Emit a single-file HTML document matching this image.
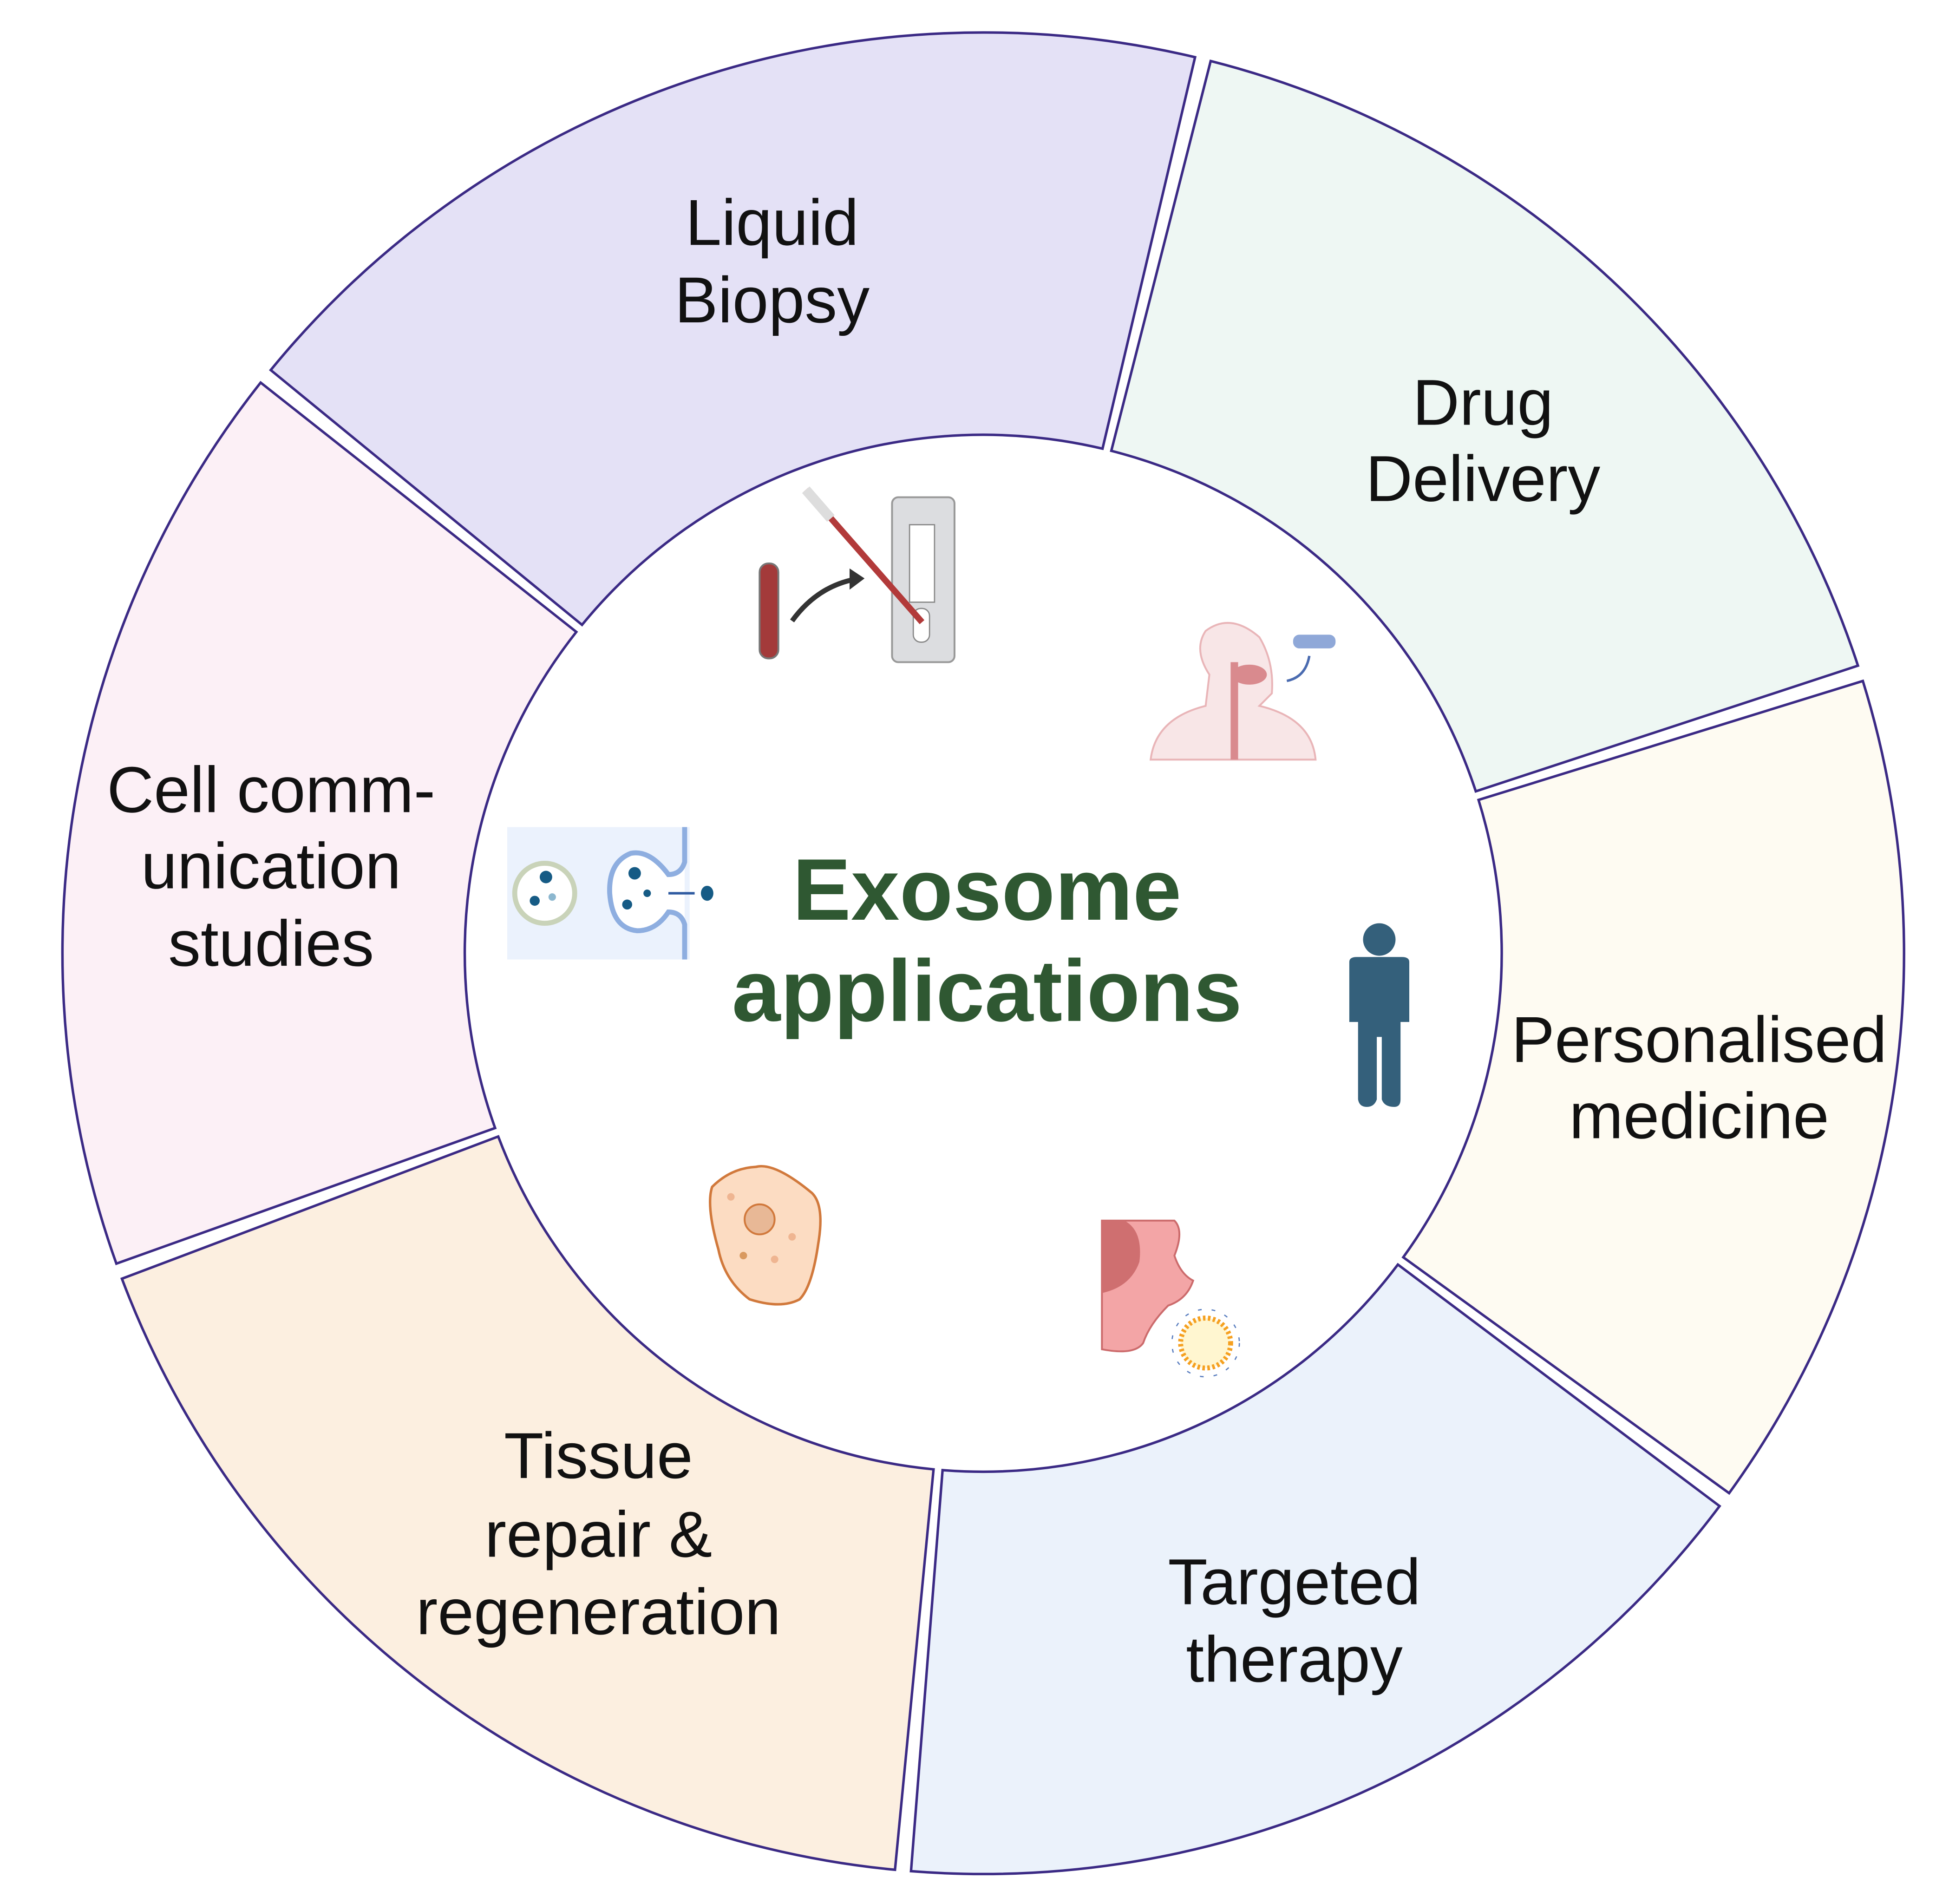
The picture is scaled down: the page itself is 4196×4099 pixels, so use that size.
<!DOCTYPE html>
<html><head><meta charset="utf-8"><style>
html,body{margin:0;padding:0;background:#fff;}
svg{display:block;}
text{font-family:"Liberation Sans",Arial,sans-serif;}
</style></head><body>
<svg id="s" width="4196" height="4099" viewBox="0 0 1560 1524" preserveAspectRatio="none" xmlns="http://www.w3.org/2000/svg">
<g id="segs"></g>
<g font-size="52" fill="#111" text-anchor="middle" dominant-baseline="central">
<text x="618" y="178">Liquid</text><text x="618" y="240">Biopsy</text>
<text x="1187" y="322">Drug</text><text x="1187" y="383">Delivery</text>
<text x="1360" y="832">Personalised</text><text x="1360" y="893">medicine</text>
<text x="1036" y="1266">Targeted</text><text x="1036" y="1328">therapy</text>
<text x="479" y="1165">Tissue</text><text x="479" y="1228">repair &amp;</text><text x="479" y="1290">regeneration</text>
<text x="217" y="632">Cell comm-</text><text x="217" y="693">unication</text><text x="217" y="755">studies</text>
</g>
<g font-size="70" font-weight="bold" fill="#2f5832" text-anchor="middle" dominant-baseline="central">
<text x="790" y="712">Exosome</text><text x="790" y="793">applications</text>
</g>
<!-- liquid biopsy icon -->
<rect x="608" y="451" width="15" height="76" rx="7" fill="#a33a3a" stroke="#777" stroke-width="1.5"/>
<path d="M634 497 Q655 468 688 463" fill="none" stroke="#333" stroke-width="4"/>
<path d="M680 455 L692 463 L680 472 Z" fill="#333"/>
<rect x="714" y="398" width="50" height="132" rx="5" fill="#dcdde0" stroke="#999" stroke-width="1.5"/>
<rect x="728" y="420" width="20" height="62" fill="#fff" stroke="#888"/>
<rect x="731" y="487" width="13" height="27" rx="6" fill="#fff" stroke="#888"/>
<line x1="645" y1="392" x2="738" y2="498" stroke="#b23a3a" stroke-width="5"/>
<line x1="645" y1="392" x2="665" y2="415" stroke="#ddd" stroke-width="8"/>
<!-- drug delivery icon -->
<path d="M921 608 Q925 575 965 565 L968 540 Q955 520 965 505 Q985 490 1008 510 Q1020 530 1018 555 L1008 565 Q1050 575 1053 608 Z" fill="#f8e6e7" stroke="#e9b5b8" stroke-width="1.5"/>
<rect x="985" y="530" width="6" height="78" fill="#d98a8e"/>
<ellipse cx="1000" cy="540" rx="14" ry="8" fill="#d98a8e"/>
<rect x="1035" y="508" width="34" height="11" rx="5" fill="#8fa8d8"/>
<path d="M1048 525 Q1045 542 1030 545" fill="none" stroke="#4a6bb0" stroke-width="2"/>
<!-- exosome panel -->
<rect x="406" y="662" width="146" height="106" fill="#ebf2fd"/>
<circle cx="436" cy="715" r="24" fill="#fff" stroke="#c9d3b9" stroke-width="4"/>
<circle cx="437" cy="702" r="5" fill="#165b85"/><circle cx="428" cy="721" r="4" fill="#165b85"/><circle cx="442" cy="718" r="3" fill="#8cb7cf"/>
<path d="M548 662 L548 690 Q545 700 535 700 Q520 680 505 683 Q487 690 488 715 Q490 743 510 745 Q525 745 535 730 Q545 730 548 740 L548 768" fill="#fff" stroke="#8eaee0" stroke-width="4"/>
<circle cx="508" cy="699" r="5" fill="#165b85"/><circle cx="502" cy="724" r="4" fill="#165b85"/><circle cx="518" cy="715" r="3" fill="#165b85"/>
<line x1="535" y1="715" x2="556" y2="715" stroke="#2e5aa0" stroke-width="2"/>
<ellipse cx="566" cy="715" rx="5" ry="6" fill="#165b85"/>
<!-- person -->
<circle cx="1104" cy="752" r="13" fill="#34607b"/>
<path d="M1080 770 Q1080 766 1086 766 L1122 766 Q1128 766 1128 770 L1128 818 L1121 818 L1121 880 Q1121 886 1116 886 Q1108 886 1106 880 L1106 830 L1102 830 L1102 880 Q1100 886 1094 886 Q1088 886 1087 880 L1087 818 L1080 818 Z" fill="#34607b"/>
<!-- cell -->
<path d="M605 934 Q620 930 650 955 Q660 965 655 995 Q650 1030 640 1040 Q625 1048 600 1040 Q580 1025 575 1000 Q565 965 570 950 Q585 935 605 934 Z" fill="#fcdcc2" stroke="#d1793c" stroke-width="2"/>
<circle cx="608" cy="976" r="12" fill="#e8b896" stroke="#d1793c" stroke-width="1.5"/>
<circle cx="585" cy="958" r="3" fill="#efb591"/><circle cx="620" cy="1008" r="3" fill="#efb591"/><circle cx="595" cy="1005" r="3" fill="#d9995f"/><circle cx="634" cy="990" r="3" fill="#efb591"/>
<!-- targeted therapy -->
<path d="M882 977 L940 977 Q948 985 940 1005 Q945 1020 955 1025 Q950 1040 935 1045 Q920 1060 915 1075 Q908 1085 882 1080 Z" fill="#f3a5a6" stroke="#cc6b6c" stroke-width="1.5"/>
<path d="M882 977 L900 977 Q915 985 912 1010 Q905 1030 882 1035 Z" fill="#cf6f70"/>
<circle cx="965" cy="1075" r="20" fill="#fff6d0" stroke="#f5a020" stroke-width="4" stroke-dasharray="2 2"/>
<circle cx="965" cy="1075" r="27" fill="none" stroke="#5b7fc0" stroke-width="1" stroke-dasharray="3 8"/>
<script>
(function(){
var cx=787,cy=763,R=737,r=415,ns="http://www.w3.org/2000/svg";
var segs=[[219.3,283.3,"#e4e1f6"],[284.3,341.8,"#eef7f3"],[342.8,395.9,"#fefbf2"],[396.9,454.5,"#ebf2fb"],[455.5,519.3,"#fcefe0"],[520.3,578.3,"#fcf0f6"]];
function p(a,rr){a=a*Math.PI/180;return (cx+rr*Math.cos(a)).toFixed(2)+" "+(cy+rr*Math.sin(a)).toFixed(2);}
var g=document.getElementById("segs");
segs.forEach(function(s){
var large=(s[1]-s[0])>180?1:0;
var d="M"+p(s[0],r)+" L"+p(s[0],R)+" A"+R+" "+R+" 0 "+large+" 1 "+p(s[1],R)+" L"+p(s[1],r)+" A"+r+" "+r+" 0 "+large+" 0 "+p(s[0],r)+" Z";
var e=document.createElementNS(ns,"path");e.setAttribute("d",d);e.setAttribute("fill",s[2]);e.setAttribute("stroke","#3b2a85");e.setAttribute("stroke-width","2");g.appendChild(e);
});
})();
</script>
</svg>
</body></html>
